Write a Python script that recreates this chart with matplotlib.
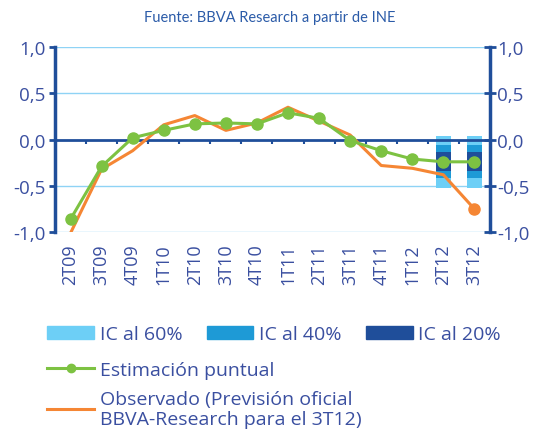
import numpy as np
import matplotlib.pyplot as plt
from matplotlib.patches import Patch
from matplotlib.lines import Line2D

# quarters shown on the x axis
quarters = ["2T09", "3T09", "4T09", "1T10", "2T10", "3T10", "4T10",
            "1T11", "2T11", "3T11", "4T11", "1T12", "2T12", "3T12"]

# point estimate (green) and observed / official forecast (orange)
estimacion = [-0.86, -0.29, 0.02, 0.10, 0.17, 0.18, 0.17,
              0.29, 0.23, -0.01, -0.12, -0.21, -0.24, -0.24]
observado = [-1.01, -0.32, -0.12, 0.16, 0.26, 0.10, 0.18,
             0.35, 0.20, 0.05, -0.28, -0.31, -0.38, -0.75]

# confidence intervals for the last two quarters (low, high)
ic_quarters = ["2T12", "3T12"]
ic60_low = [-0.52, -0.52]
ic60_high = [0.04, 0.04]
ic40_low = [-0.41, -0.41]
ic40_high = [-0.06, -0.06]
ic20_low = [-0.34, -0.34]
ic20_high = [-0.13, -0.13]

yticks = [-1.0, -0.5, 0.0, 0.5, 1.0]

DARK = "#1f4e9a"
TEXT = "#3a4fa0"
GRID = "#8fd3f5"
GREEN = "#7dc242"
ORANGE = "#f58634"
IC60 = "#6dcff6"
IC40 = "#1e9ad6"
IC20 = "#1f4e9a"

plt.rcParams["font.family"] = ["Open Sans", "DejaVu Sans"]

fig = plt.figure(figsize=(5.36, 4.39), dpi=100)
ax = fig.add_axes([0.1026, 0.469, 0.8115, 0.4214])

x = np.arange(len(quarters))
ic_x = np.array([quarters.index(q) for q in ic_quarters])
w = 0.5

ax.bar(ic_x, np.array(ic60_high) - np.array(ic60_low), bottom=ic60_low,
       width=w, color=IC60, zorder=2)
ax.bar(ic_x, np.array(ic40_high) - np.array(ic40_low), bottom=ic40_low,
       width=w, color=IC40, zorder=2)
ax.bar(ic_x, np.array(ic20_high) - np.array(ic20_low), bottom=ic20_low,
       width=w, color=IC20, zorder=2)

for yv in [-1.0, -0.5, 0.5, 1.0]:
    ax.axhline(yv, color=GRID, lw=1, zorder=1)
ax.axhline(0, color=DARK, lw=2, zorder=3)
ax.vlines(np.arange(0.5, len(quarters) - 1, 1), -0.05, 0,
          color=DARK, lw=1.5, zorder=3)

ax.plot(x, observado, color=ORANGE, lw=2.2, zorder=4)
ax.plot(x[-1], observado[-1], "o", color=ORANGE, ms=8, zorder=5)
ax.plot(x, estimacion, color=GREEN, lw=2.2, marker="o", ms=8, zorder=6)

ax.set_xlim(-0.5, len(quarters) - 0.5)
ax.set_ylim(-1.0, 1.0)
ax.set_xticks(x)
ax.set_xticklabels(quarters, rotation=90, color=TEXT, fontsize=13)
ax.tick_params(axis="x", length=0, pad=8)

labels = [f"{v:.1f}".replace(".", ",") for v in yticks]
ax.set_yticks(yticks)
ax.set_yticklabels(labels, color=TEXT, fontsize=13.5)
ax.tick_params(axis="y", direction="out", length=4, width=2, color=DARK,
               left=True, right=False, pad=3)

ax2 = ax.twinx()
ax2.set_ylim(-1.0, 1.0)
ax2.set_yticks(yticks)
ax2.set_yticklabels(labels, color=TEXT, fontsize=13.5)
ax2.tick_params(axis="y", direction="inout", length=8, width=2, color=DARK,
                pad=1)

for a in (ax, ax2):
    for side in ("top", "bottom"):
        a.spines[side].set_visible(False)
    a.spines["left"].set_color(DARK)
    a.spines["right"].set_color(DARK)
    a.spines["left"].set_linewidth(2.5)
    a.spines["right"].set_linewidth(2.5)
ax.spines["right"].set_visible(False)
ax2.spines["left"].set_visible(False)

fig.text(0.504, 0.958, "Fuente: BBVA Research a partir de INE",
         ha="center", va="center", color="#2b5ba8", fontsize=10.5,
         family=["Lato", "DejaVu Sans"])

patch_handles = [Patch(color=IC60), Patch(color=IC40), Patch(color=IC20)]
leg1 = fig.legend(patch_handles, ["IC al 60%", "IC al 40%", "IC al 20%"],
                  loc="upper left", bbox_to_anchor=(0.088, 0.257), ncol=3,
                  frameon=False, fontsize=14, handlelength=2.4,
                  handleheight=0.62, handletextpad=0.3, columnspacing=1.25,
                  borderaxespad=0, borderpad=0)
for t in leg1.get_texts():
    t.set_color(TEXT)

line_handles = [Line2D([], [], color=GREEN, lw=2.2, marker="o", ms=6),
                Line2D([], [], color=ORANGE, lw=2.2)]
leg2 = fig.legend(line_handles,
                  ["Estimación puntual",
                   "Observado (Previsión oficial\nBBVA-Research para el 3T12)"],
                  loc="upper left", bbox_to_anchor=(0.088, 0.175), ncol=1,
                  frameon=False, fontsize=14, handlelength=2.4,
                  handletextpad=0.3, labelspacing=0.55,
                  borderaxespad=0, borderpad=0)
for t in leg2.get_texts():
    t.set_color(TEXT)
    t.set_linespacing(1.15)

fig.savefig("out.png", dpi=100)
